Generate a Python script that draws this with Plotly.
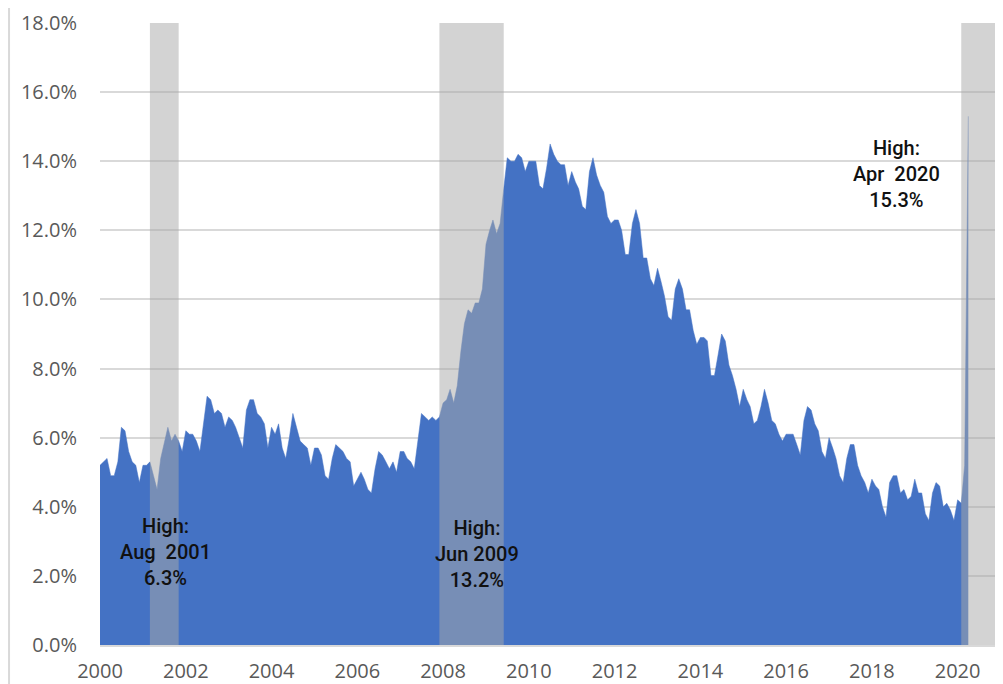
import pandas as pd
import plotly.graph_objects as go

# Monthly unemployment rate (%), Jan 2000 - Apr 2020
start_month = "2000-01-01"
rate = [
    5.2, 5.3, 5.4, 4.9, 4.9, 5.3, 6.3, 6.2, 5.6, 5.3,
    5.2, 4.7, 5.2, 5.2, 5.3, 4.9, 4.5, 5.4, 5.8, 6.3,
    5.9, 6.1, 5.9, 5.6, 6.2, 6.1, 6.1, 5.9, 5.6, 6.4,
    7.2, 7.1, 6.7, 6.8, 6.7, 6.3, 6.6, 6.5, 6.3, 6.0,
    5.7, 6.8, 7.1, 7.1, 6.7, 6.6, 6.4, 5.7, 6.3, 6.1,
    6.4, 5.7, 5.4, 6.0, 6.7, 6.3, 5.9, 5.8, 5.7, 5.2,
    5.7, 5.7, 5.5, 4.9, 4.8, 5.4, 5.8, 5.7, 5.6, 5.4,
    5.3, 4.6, 4.8, 5.0, 4.8, 4.5, 4.4, 5.1, 5.6, 5.5,
    5.3, 5.1, 5.3, 5.0, 5.6, 5.6, 5.4, 5.3, 5.1, 5.9,
    6.7, 6.6, 6.5, 6.6, 6.5, 6.6, 7.0, 7.1, 7.4, 7.0,
    7.5, 8.5, 9.3, 9.7, 9.6, 9.9, 9.9, 10.3, 11.6, 12.0,
    12.3, 11.9, 12.2, 13.2, 14.1, 14.0, 14.0, 14.2, 14.1, 13.7,
    14.0, 14.0, 14.0, 13.3, 13.2, 13.8, 14.5, 14.2, 14.0, 13.9,
    13.9, 13.3, 13.7, 13.4, 13.2, 12.7, 12.6, 13.7, 14.1, 13.6,
    13.3, 13.1, 12.4, 12.2, 12.3, 12.3, 12.0, 11.3, 11.3, 12.2,
    12.6, 12.2, 11.2, 11.2, 10.6, 10.4, 10.9, 10.5, 10.1, 9.5,
    9.4, 10.3, 10.6, 10.3, 9.7, 9.7, 9.1, 8.7, 8.9, 8.9,
    8.8, 7.8, 7.8, 8.4, 9.0, 8.8, 8.1, 7.8, 7.4, 6.9,
    7.4, 7.1, 6.9, 6.4, 6.5, 6.9, 7.4, 7.0, 6.5, 6.4,
    6.1, 5.9, 6.1, 6.1, 6.1, 5.8, 5.5, 6.5, 6.9, 6.8,
    6.4, 6.2, 5.6, 5.4, 6.0, 5.7, 5.4, 4.9, 4.7, 5.4,
    5.8, 5.8, 5.2, 4.9, 4.7, 4.4, 4.8, 4.6, 4.5, 4.0,
    3.7, 4.7, 4.9, 4.9, 4.4, 4.5, 4.2, 4.3, 4.8, 4.4,
    4.4, 3.8, 3.6, 4.4, 4.7, 4.6, 4.0, 4.1, 3.9, 3.6,
    4.2, 4.1, 5.2, 15.3,
]
dates = pd.date_range(start_month, periods=len(rate), freq="MS")

# Recession periods (start, end)
recessions = [
    ("2001-03-01", "2001-11-01"),
    ("2007-12-01", "2009-06-01"),
    ("2020-02-01", "2020-12-10"),
]

# Annotations: (x date, y %, text)
notes = [
    ("2001-07-15", 2.69, "High:<br>Aug  2001<br>6.3%"),
    ("2008-10-15", 2.63, "High:<br>Jun 2009<br>13.2%"),
    ("2018-08-01", 13.63, "High:<br>Apr  2020<br>15.3%"),
]

x_range = ["2000-01-01", "2020-12-10"]
y_max = 18

fig = go.Figure()
fig.add_trace(go.Scatter(
    x=dates, y=rate, mode="lines", fill="tozeroy",
    line=dict(color="#4472C4", width=0.5),
    fillcolor="#4472C4", hoverinfo="skip", showlegend=False,
))

for s, e in recessions:
    fig.add_shape(type="rect", xref="x", yref="y", x0=s, x1=e, y0=0, y1=y_max,
                  fillcolor="rgba(169,169,169,0.51)", line=dict(width=0),
                  layer="above")

for x, y, t in notes:
    fig.add_annotation(x=x, y=y, xref="x", yref="y", text=t, showarrow=False,
                       align="center",
                       font=dict(family="Roboto", size=20, color="#111111", weight=500))

# chart border on the left
fig.add_shape(type="line", xref="paper", yref="paper", x0=-0.1013, x1=-0.1013,
              y0=-0.08, y1=1.03, line=dict(color="#D9D9D9", width=2))

# page body has an 8px margin, so the figure is offset by (8, 8)
fig.update_layout(
    width=995, height=676,
    margin=dict(l=92, r=5, t=15, b=39),
    paper_bgcolor="white", plot_bgcolor="white",
    font=dict(family="Open Sans", size=20, color="#595959"),
)
fig.update_xaxes(
    type="date", range=x_range, tick0="2000-01-01", dtick="M24", tickformat="%Y",
    showgrid=False, showline=True, linecolor="#D9D9D9", linewidth=1.5,
    ticks="outside", ticklen=7, tickcolor="rgba(0,0,0,0)", automargin=False,
    tickfont=dict(family="Open Sans", size=20, color="#595959"),
)
fig.update_yaxes(
    range=[0, y_max], dtick=2, tickformat=".1f", ticksuffix="%",
    showgrid=True, gridcolor="#D9D9D9", gridwidth=1.5, zeroline=False,
    ticks="outside", ticklen=18, tickcolor="rgba(0,0,0,0)", automargin=False,
    tickfont=dict(family="Open Sans", size=20, color="#595959"),
)

fig.write_html("out.html")
